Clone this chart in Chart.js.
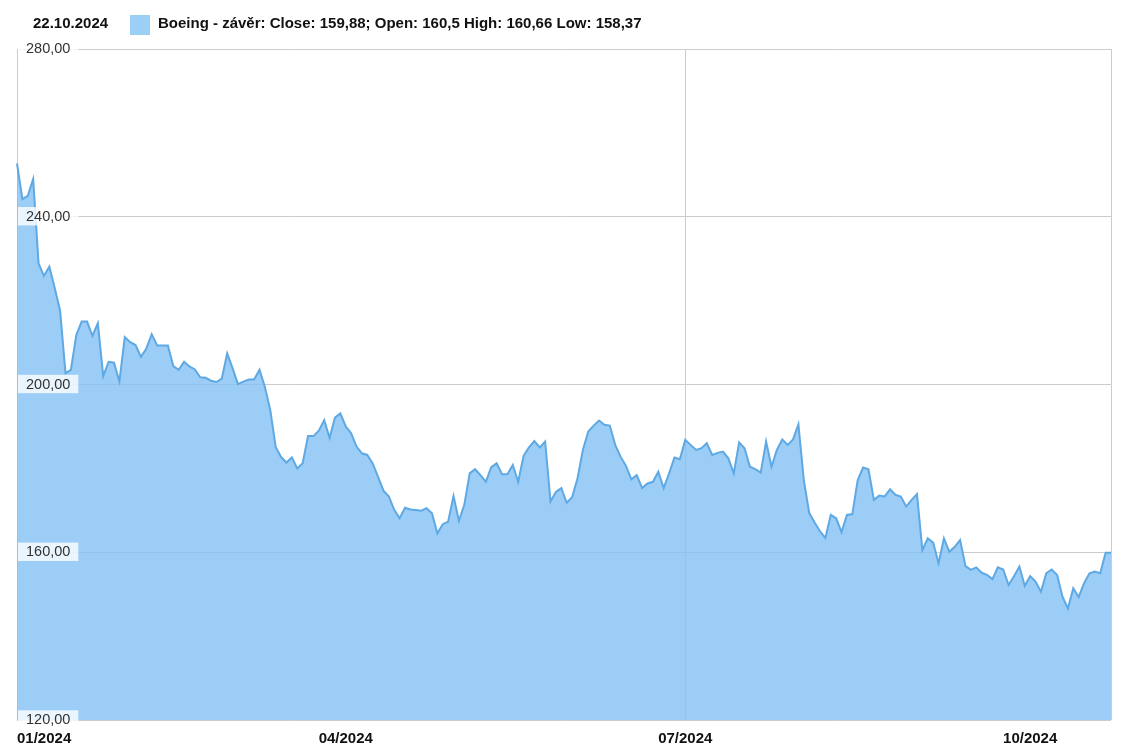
<!DOCTYPE html>
<html>
<head>
<meta charset="utf-8">
<script src="https://cdn.jsdelivr.net/npm/chart.js@4.4.0/dist/chart.umd.min.js"></script>
<style>
  html, body { margin: 0; padding: 0; background: #fff; }
  #wrap { width: 1125px; height: 751px; position: relative; }
</style>
</head>
<body>
<div id="wrap"><canvas id="stockChart"></canvas></div>
<script>
// hlavička grafu
const lastDate = '22.10.2024';
const seriesName = 'Boeing - závěr';
const lastClose = '159,88';
const lastOpen = '160,5';
const lastHigh = '160,66';
const lastLow = '158,37';

// měsíce a počet obchodních dní v nich
const monthLabels = ['01/2024', '02/2024', '03/2024', '04/2024', '05/2024', '06/2024', '07/2024', '08/2024', '09/2024', '10/2024'];
const tradingDays = [21, 20, 20, 22, 22, 19, 22, 22, 20, 16];
const shownMonths = ['01/2024', '04/2024', '07/2024', '10/2024'];

// osa y
const yTicks = [120, 160, 200, 240, 280];

// denní závěrečné ceny
const closeValues = [
    252.7, 244.2, 245.0, 249.0, 228.9, 225.9, 228.1, 223.0, 217.6, 202.7,
    203.5, 211.8, 215.0, 215.0, 211.6, 214.6, 202.0, 205.4, 205.2, 200.7,
    211.3, 210.1, 209.4, 206.6, 208.6, 212.0, 209.3, 209.3, 209.3, 204.4,
    203.5, 205.4, 204.3, 203.6, 201.7, 201.6, 200.9, 200.6, 201.4, 207.4,
    203.9, 200.1, 200.7, 201.2, 201.2, 203.5, 199.4, 193.9, 185.1, 182.7,
    181.4, 182.6, 180.0, 181.2, 187.7, 187.7, 189.0, 191.5, 187.3, 192.1,
    193.1, 190.0, 188.4, 185.2, 183.6, 183.2, 181.2, 178.0, 174.7, 173.3,
    170.1, 168.1, 170.6, 170.2, 170.1, 169.9, 170.5, 169.3, 164.5, 166.7,
    167.3, 173.4, 167.5, 171.3, 178.8, 179.8, 178.4, 176.8, 180.3, 181.2,
    178.6, 178.6, 180.8, 176.8, 183.0, 185.0, 186.5, 185.0, 186.4, 172.1,
    174.4, 175.3, 171.8, 173.1, 177.6, 184.4, 188.8, 190.2, 191.4, 190.4,
    190.2, 185.6, 182.8, 180.6, 177.4, 178.4, 175.3, 176.4, 176.8, 179.2,
    175.3, 178.8, 182.6, 182.2, 186.8, 185.6, 184.4, 184.8, 186.0, 183.2,
    183.7, 184.0, 182.4, 178.8, 186.2, 184.8, 180.4, 179.8, 179.0, 186.4,
    180.4, 184.4, 186.9, 185.6, 186.9, 190.5, 177.2, 169.4, 167.1, 165.0,
    163.4, 168.9, 168.1, 164.8, 168.9, 169.1, 177.2, 180.2, 179.8, 172.5,
    173.5, 173.3, 175.0, 173.7, 173.3, 170.9, 172.5, 173.9, 160.5, 163.3,
    162.3, 157.4, 163.3, 160.1, 161.3, 162.9, 156.7, 155.8, 156.4, 155.1,
    154.6, 153.6, 156.4, 155.9, 152.2, 154.3, 156.6, 152.0, 154.3, 153.0,
    150.6, 155.0, 155.9, 154.6, 149.4, 146.6, 151.4, 149.3, 152.6, 155.0,
    155.4, 155.0, 159.9, 159.88
];

// popisky osy x - první obchodní den v měsíci nese název měsíce
const labels = [];
monthLabels.forEach((m, i) => {
    for (let d = 0; d < tradingDays[i]; d++) {
        labels.push(d === 0 ? m : '');
    }
});
const midYearIndex = labels.indexOf('07/2024');
const lastIndex = labels.length - 1;

const fontFamily = "'Liberation Sans', Arial, sans-serif";
const swatchColor = '#9bcff6';
const fillColor = 'rgba(130,193,244,0.8)'; // poloprůhledná výplň, mřížka prosvítá
const lineColor = '#5ea9e3';
const gridColor = '#cccccc';

// vykreslení hlavičky (datum + legenda)
const headerPlugin = {
    id: 'header',
    afterDraw(chart) {
        const ctx = chart.ctx;
        ctx.save();
        ctx.font = 'bold 15px ' + fontFamily;
        ctx.fillStyle = '#111';
        ctx.textBaseline = 'middle';
        ctx.textAlign = 'left';
        ctx.fillText(lastDate, 33, 24);
        ctx.fillStyle = swatchColor;
        ctx.fillRect(130, 15, 20, 20);
        ctx.fillStyle = '#111';
        ctx.fillText(seriesName + ': Close: ' + lastClose + '; Open: ' + lastOpen +
            ' High: ' + lastHigh + ' Low: ' + lastLow, 158, 24);
        ctx.restore();
    }
};

const ctx = document.getElementById('stockChart').getContext('2d');
new Chart(ctx, {
    type: 'line',
    data: {
        labels: labels,
        datasets: [{
            label: seriesName,
            data: closeValues,
            borderColor: lineColor,
            borderWidth: 2,
            backgroundColor: fillColor,
            fill: 'start',
            pointRadius: 0,
            tension: 0
        }]
    },
    options: {
        responsive: true,
        maintainAspectRatio: false,
        animation: false,
        layout: { padding: { left: -1, top: 49, right: 14, bottom: -7 } },
        plugins: {
            legend: { display: false },
            tooltip: { enabled: false }
        },
        scales: {
            x: {
                border: { display: false },
                grid: {
                    drawTicks: false,
                    color: c => (c.index === midYearIndex || c.index === lastIndex) ? gridColor : 'transparent'
                },
                ticks: {
                    autoSkip: false,
                    maxRotation: 0,
                    align: 'inner',
                    padding: 10,
                    color: '#111',
                    font: { family: fontFamily, size: 15, weight: 'bold' },
                    callback: function (value, index) {
                        const l = labels[index];
                        return shownMonths.includes(l) ? l : '';
                    }
                }
            },
            y: {
                min: yTicks[0],
                max: yTicks[yTicks.length - 1],
                afterBuildTicks: axis => { axis.ticks = yTicks.map(v => ({ value: v })); },
                border: { display: true, color: gridColor },
                grid: { drawTicks: false, color: gridColor },
                ticks: {
                    z: 2,
                    mirror: true,
                    padding: 9,
                    color: '#333',
                    font: { family: fontFamily, size: 14.5 },
                    showLabelBackdrop: true,
                    backdropColor: 'rgba(255,255,255,0.8)',
                    backdropPadding: { left: 8, right: 8, top: 1, bottom: 0 },
                    callback: v => v.toFixed(2).replace('.', ',')
                }
            }
        }
    },
    plugins: [headerPlugin]
});
</script>
</body>
</html>
